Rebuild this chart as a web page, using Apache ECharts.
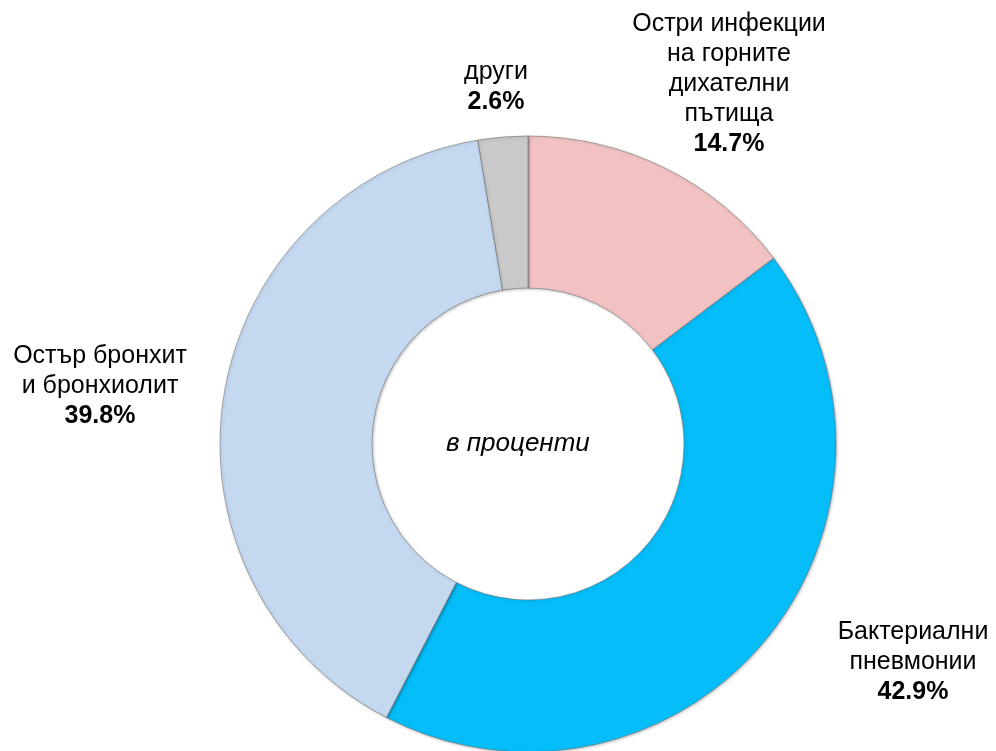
<!DOCTYPE html>
<html>
<head>
<meta charset="utf-8">
<script src="https://cdn.jsdelivr.net/npm/echarts@6/dist/echarts.min.js"></script>
<style>
  html, body { margin: 0; padding: 0; background: #fff; }
  #main { width: 996px; height: 751px; }
</style>
</head>
<body>
<div id="main"></div>
<script>
var names = ['Остри инфекции\nна горните\nдихателни\nпътища', 'Бактериални\nпневмонии', 'Остър бронхит\nи бронхиолит', 'други'];
var values = [14.7, 42.9, 39.8, 2.6];
var colors = ['#F2C2C2', '#05BDF9', '#C4D8F0', '#C9C9C9'];
// where each label block is centred (x) and where it starts (y)
var labelPos = [[729, 9], [913, 617], [100, 341], [496, 57]];

var myChart = echarts.init(document.getElementById('main'));

var data = names.map(function (n, i) {
  return { name: n, value: values[i], itemStyle: { color: colors[i] } };
});

var font = '"Liberation Sans", Arial, sans-serif';

myChart.setOption({
  animation: false,
  graphic: [{
    type: 'text',
    left: 446,
    top: 431,
    style: {
      text: 'в проценти',
      font: 'italic 26px "Liberation Sans", Arial, sans-serif',
      fill: '#000'
    }
  }],
  series: [{
    type: 'pie',
    center: [528, 444],
    radius: [156, 308],
    startAngle: 90,
    clockwise: true,
    data: data,
    itemStyle: {
      borderColor: 'rgba(110,110,110,0.55)',
      borderWidth: 1,
      shadowColor: 'rgba(0,0,0,0.25)',
      shadowBlur: 3,
      shadowOffsetX: 1,
      shadowOffsetY: 1
    },
    emphasis: { disabled: true },
    labelLine: { show: false },
    label: {
      show: true,
      position: 'outside',
      align: 'center',
      overflow: 'none',
      formatter: function (p) {
        return '{n|' + p.name.split('\n').join('}\n{n|') + '}\n{v|' + p.value.toFixed(1) + '%}';
      },
      rich: {
        n: { fontFamily: font, fontSize: 25, color: '#000', lineHeight: 30, align: 'center' },
        v: { fontFamily: font, fontSize: 25, fontWeight: 'bold', color: '#000', lineHeight: 30, align: 'center' }
      }
    },
    labelLayout: function (params) {
      var p = labelPos[params.dataIndex];
      return { x: p[0], y: p[1], align: 'center', verticalAlign: 'top' };
    }
  }]
});
</script>
</body>
</html>
